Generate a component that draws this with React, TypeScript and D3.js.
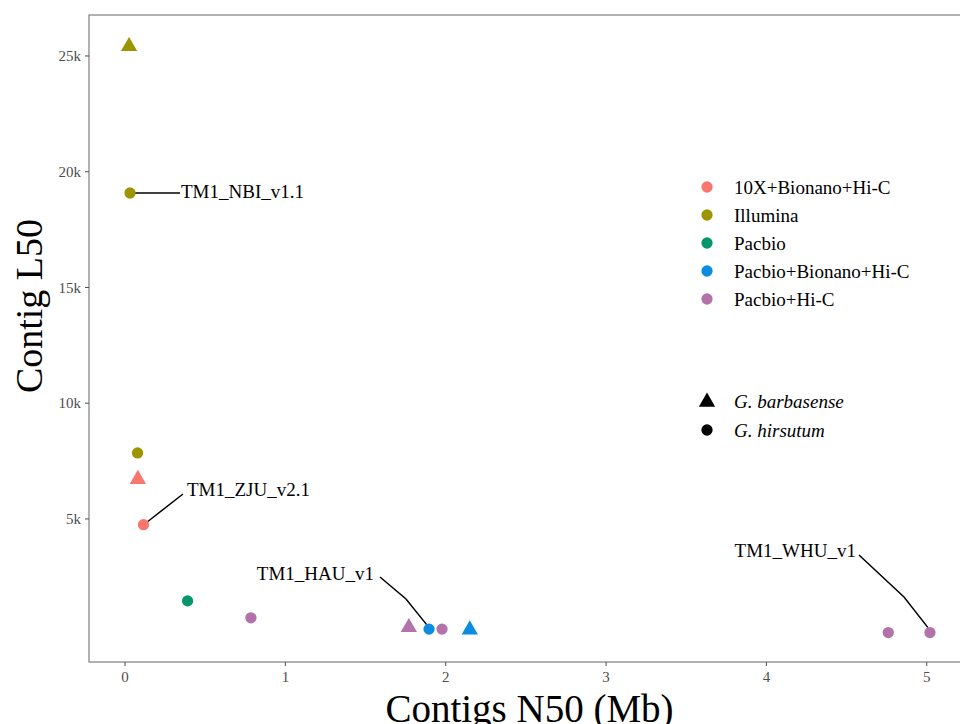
import React from "react";
import * as d3 from "d3";

const techniques = ["10X+Bionano+Hi-C", "Illumina", "Pacbio", "Pacbio+Bionano+Hi-C", "Pacbio+Hi-C"];
const techColors = ["#F8766D", "#9C9400", "#079669", "#0A8CE0", "#B472AA"];
const species = ["G. barbasense", "G. hirsutum"];

const pointTech = ["Illumina", "Illumina", "Illumina", "10X+Bionano+Hi-C", "10X+Bionano+Hi-C", "Pacbio", "Pacbio+Hi-C", "Pacbio+Hi-C", "Pacbio+Bionano+Hi-C", "Pacbio+Hi-C", "Pacbio+Bionano+Hi-C", "Pacbio+Hi-C", "Pacbio+Hi-C"];
const pointSpecies = ["G. barbasense", "G. hirsutum", "G. hirsutum", "G. barbasense", "G. hirsutum", "G. hirsutum", "G. hirsutum", "G. barbasense", "G. hirsutum", "G. hirsutum", "G. barbasense", "G. hirsutum", "G. hirsutum"];
const pointN50 = [0.025, 0.031, 0.078, 0.08, 0.115, 0.39, 0.785, 1.77, 1.896, 1.977, 2.15, 4.76, 5.02];
const pointL50 = [25500, 19080, 7850, 6800, 4750, 1460, 730, 400, 240, 240, 300, 90, 90];
const pointLabel = ["", "TM1_NBI_v1.1", "", "", "TM1_ZJU_v2.1", "", "", "", "TM1_HAU_v1", "", "", "", "TM1_WHU_v1"];

const xTicks = [0, 1, 2, 3, 4, 5];
const yTicks = [5000, 10000, 15000, 20000, 25000];
const yTickLabels = ["5k", "10k", "15k", "20k", "25k"];

export default function App() {
  const W = 960, H = 724;
  const left = 89, top = 15, right = 970, bottom = 662;
  const xMin = d3.min(pointN50)!, xMax = d3.max(pointN50)!;
  const yMin = d3.min(pointL50)!, yMax = d3.max(pointL50)!;
  const xPad = (xMax - xMin) * 0.05, yPad = (yMax - yMin) * 0.05;
  const x = d3.scaleLinear().domain([xMin - xPad, xMax + xPad]).range([left, right]);
  const y = d3.scaleLinear().domain([yMin - yPad, yMax + yPad]).range([bottom, top]);
  const color = d3.scaleOrdinal<string, string>().domain(techniques).range(techColors);
  const tri = d3.symbol().type(d3.symbolTriangle).size(115)()!;
  const circ = d3.symbol().type(d3.symbolCircle).size(100)()!;
  const font = "'Liberation Serif', 'Times New Roman', serif";

  const labelGeom: Record<string, { tx: number; ty: number; anchor: string; path: (px: number, py: number) => string }> = {
    "TM1_NBI_v1.1": { tx: 181, ty: 191, anchor: "start", path: (px, py) => `M${px},${py}L180,${py}` },
    "TM1_ZJU_v2.1": { tx: 187, ty: 489, anchor: "start", path: (px, py) => `M${px + 4},${py - 3}L183,494` },
    "TM1_HAU_v1": { tx: 374, ty: 573, anchor: "end", path: (px, py) => `M${px - 2},${py - 4}L406,599L380,577` },
    "TM1_WHU_v1": { tx: 856, ty: 550, anchor: "end", path: (px, py) => `M${px - 2},${py - 5}L904,597L859,555` },
  };

  return (
    <svg width={W} height={H} style={{ position: "absolute", left: 0, top: 0 }} fontFamily={font}>
      <rect x={0} y={0} width={W} height={H} fill="#fff" />
      <rect x={left} y={top} width={right - left} height={bottom - top} fill="none" stroke="#7f7f7f" strokeWidth={1.2} />
      {xTicks.map((t) => (
        <g key={"x" + t}>
          <line x1={x(t)} x2={x(t)} y1={bottom} y2={bottom + 4} stroke="#4d4d4d" />
          <text x={x(t)} y={bottom + 20} textAnchor="middle" fontSize={15} fill="#4d4d4d">{t}</text>
        </g>
      ))}
      {yTicks.map((t, i) => (
        <g key={"y" + t}>
          <line x1={left - 4} x2={left} y1={y(t)} y2={y(t)} stroke="#4d4d4d" />
          <text x={left - 8} y={y(t)} dy="0.35em" textAnchor="end" fontSize={15} fill="#4d4d4d">{yTickLabels[i]}</text>
        </g>
      ))}
      <text x={(left + right) / 2} y={722} textAnchor="middle" fontSize={39} fill="#000">Contigs N50 (Mb)</text>
      <text transform={`translate(42,306) rotate(-90)`} textAnchor="middle" fontSize={38} fill="#000">Contig L50</text>

      {pointN50.map((v, i) => {
        const lab = pointLabel[i];
        if (!lab) return null;
        const g = labelGeom[lab];
        const px = x(v), py = y(pointL50[i]);
        return (
          <g key={"l" + i}>
            <path d={g.path(px, py)} fill="none" stroke="#000" strokeWidth={1.5} />
            <text x={g.tx} y={g.ty} dy="0.35em" textAnchor={g.anchor} fontSize={19} fill="#000">{lab}</text>
          </g>
        );
      })}
      {pointN50.map((v, i) => (
        <path
          key={"p" + i}
          d={pointSpecies[i] === species[0] ? tri : circ}
          transform={`translate(${x(v)},${y(pointL50[i]) + (pointSpecies[i] === species[0] ? 2 : 0)})`}
          fill={color(pointTech[i])}
        />
      ))}

      {techniques.map((t, i) => (
        <g key={"lg" + t} transform={`translate(707,${187 + i * 28})`}>
          <path d={circ} fill={color(t)} />
          <text x={27} y={0} dy="0.35em" fontSize={19} fill="#000">{t}</text>
        </g>
      ))}
      {species.map((s, i) => (
        <g key={"sp" + s} transform={`translate(707,${401 + i * 29})`}>
          <path d={i === 0 ? tri : circ} transform={i === 0 ? "translate(0,1)" : ""} fill="#000" />
          <text x={27} y={0} dy="0.35em" fontSize={19} fontStyle="italic" fill="#000">{s}</text>
        </g>
      ))}
    </svg>
  );
}
